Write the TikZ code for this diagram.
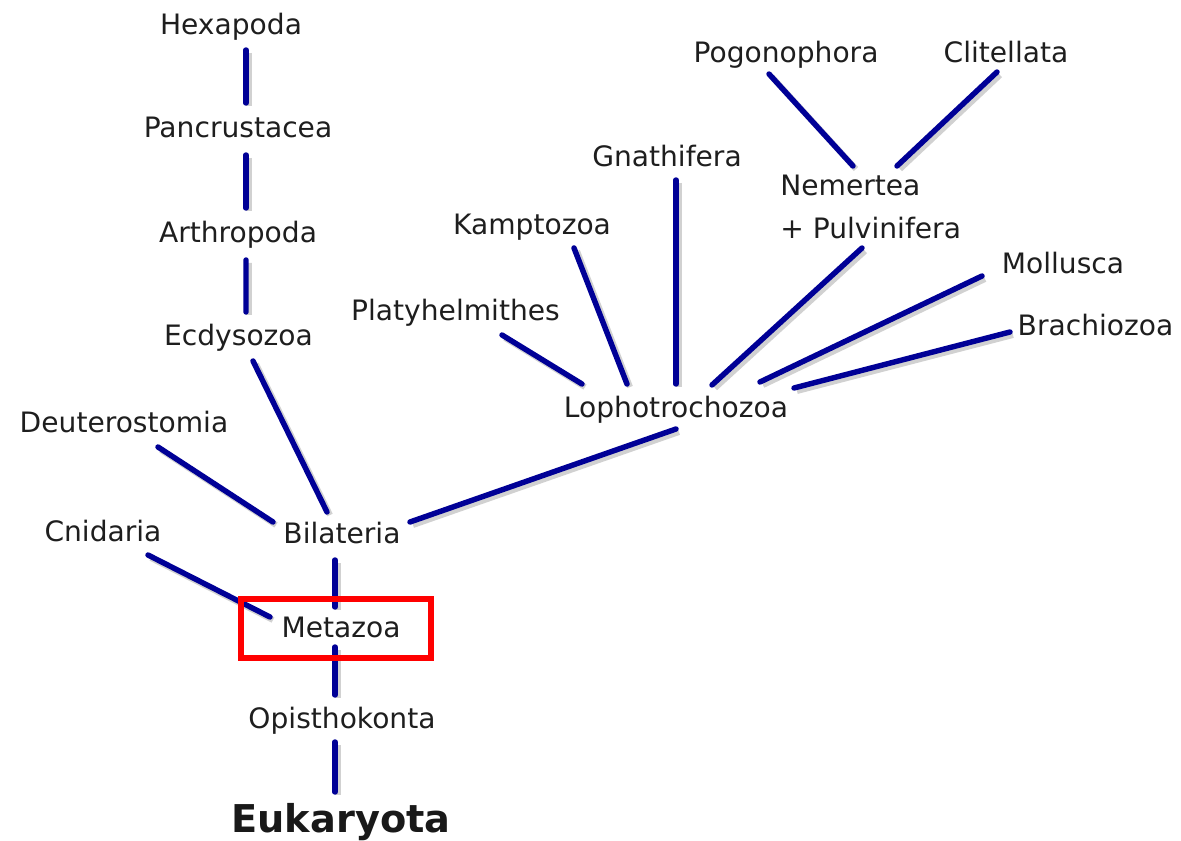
\documentclass[tikz,border=0pt]{standalone}
\usepackage{fontspec}
\setmainfont{DejaVu Sans}
\usetikzlibrary{calc}
\definecolor{treeblue}{RGB}{0,0,150}
\definecolor{textgray}{RGB}{30,30,30}

\begin{document}
\begin{tikzpicture}[x=0.02cm,y=-0.02cm,
  taxon/.style={anchor=base,inner sep=0pt,text=textgray,font=\fontsize{16}{24}\selectfont},
  branch/.style={line width=3.1pt,color=treeblue,line cap=round,
    preaction={draw=black!18,line width=3.4pt,transform canvas={shift={(3,3)}}}}]
\useasboundingbox (0,0) rectangle (1181,841);
\node[taxon] (hex) at (231,35) {Hexapoda};
\node[taxon] (pan) at (238,138) {Pancrustacea};
\node[taxon] (arth) at (238,243) {Arthropoda};
\node[taxon] (ecdy) at (238.5,346) {Ecdysozoa};
\node[taxon] (deut) at (124,433) {Deuterostomia};
\node[taxon] (cnid) at (103,541) {Cnidaria};
\node[taxon] (bil) at (342,543) {Bilateria};
\node[taxon] (meta) at (341,637) {Metazoa};
\node[taxon] (opis) at (342,728) {Opisthokonta};
\node[taxon,font=\fontsize{21.8}{26}\selectfont\bfseries,text=black!90] (euk) at (341,832) {Eukaryota};
\node[taxon] (lopho) at (676,418) {Lophotrochozoa};
\node[taxon] (plat) at (455.5,321) {Platyhelmithes};
\node[taxon] (kamp) at (532,235) {Kamptozoa};
\node[taxon] (gnat) at (667,167) {Gnathifera};
\node[taxon,anchor=north west,align=left] (nem) at (780,175) {Nemertea\\+ Pulvinifera};
\node[taxon] (pogo) at (786,63) {Pogonophora};
\node[taxon] (clit) at (1006,63) {Clitellata};
\node[taxon] (moll) at (1063,274) {Mollusca};
\node[taxon] (brach) at (1095.5,336) {Brachiozoa};

\draw[branch] ($(hex.base)+(15,15)$) -- ($(pan.base)+(8,-35)$);
\draw[branch] ($(pan.base)+(8,17)$) -- ($(arth.base)+(8,-35)$);
\draw[branch] ($(arth.base)+(8,17)$) -- ($(ecdy.base)+(7.5,-34)$);
\draw[branch] ($(ecdy.base)+(14.5,15)$) -- ($(bil.base)+(-15,-31)$);
\draw[branch] ($(deut.base)+(34,14)$) -- ($(bil.base)+(-69,-21)$);
\draw[branch] ($(bil.base)+(68,-21)$) -- ($(lopho.base)+(0,11)$);
\draw[branch] ($(cnid.base)+(45,14)$) -- ($(meta.base)+(-71,-20)$);
\draw[branch] ($(bil.base)+(-7,17)$) -- ($(meta.base)+(-6,-30)$);
\draw[branch] ($(meta.base)+(-6,10)$) -- ($(opis.base)+(-7,-33)$);
\draw[branch] ($(opis.base)+(-7,14)$) -- ($(euk.base)+(-6,-40)$);
\draw[branch] ($(plat.base)+(46.5,14)$) -- ($(lopho.base)+(-94,-34)$);
\draw[branch] ($(kamp.base)+(42,13)$) -- ($(lopho.base)+(-49,-34)$);
\draw[branch] ($(gnat.base)+(9,13)$) -- ($(lopho.base)+(0,-34)$);
\draw[branch] ($(nem.north west)+(82,73)$) -- ($(lopho.base)+(36,-33)$);
\draw[branch] ($(moll.base)+(-81,2)$) -- ($(lopho.base)+(84,-36)$);
\draw[branch] ($(brach.base)+(-85.5,-4)$) -- ($(lopho.base)+(118,-30)$);
\draw[branch] ($(pogo.base)+(-17,11)$) -- ($(nem.north west)+(73,-9)$);
\draw[branch] ($(clit.base)+(-9,9)$) -- ($(nem.north west)+(117,-9)$);

\draw[red,line width=3.4pt] ($(meta.base)+(-100,-38)$) rectangle ($(meta.base)+(90,21)$);
\end{tikzpicture}
\end{document}
